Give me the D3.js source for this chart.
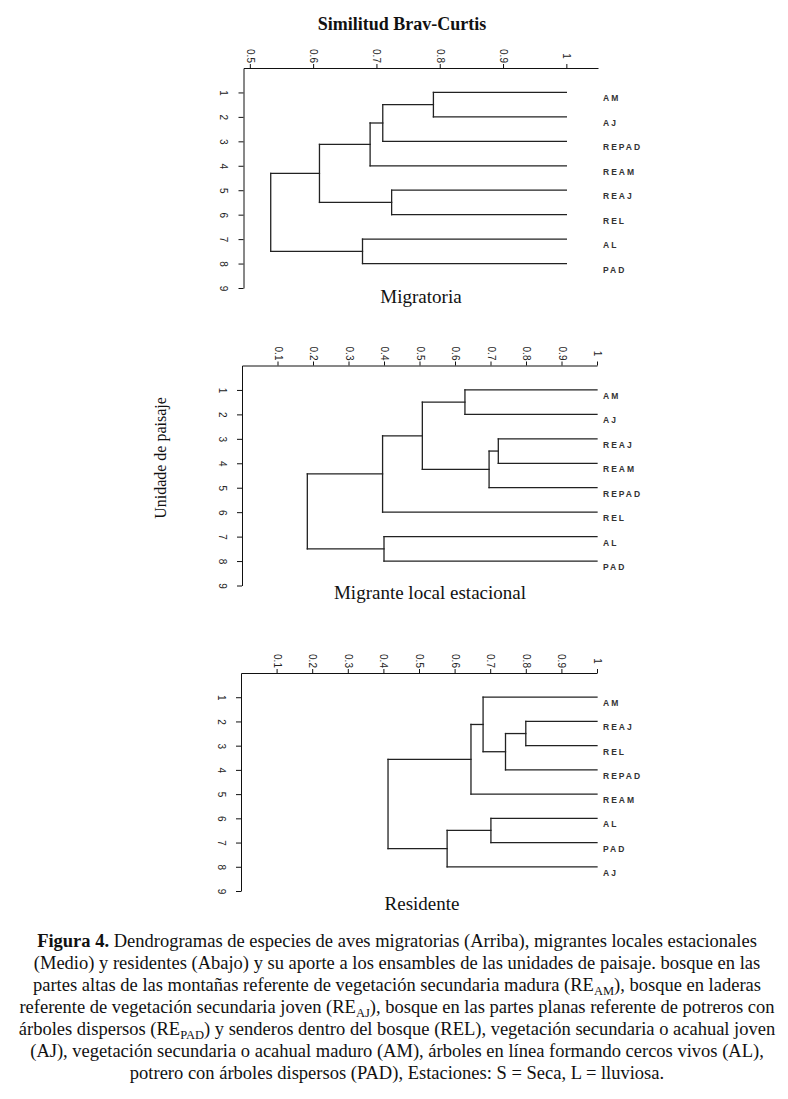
<!DOCTYPE html>
<html>
<head>
<meta charset="utf-8">
<script src="https://cdn.jsdelivr.net/npm/d3@7"></script>
<style>
  body { margin: 0; background: #fff; }
  .axis path, .axis line { stroke: #111; }
  .axis text { font-family: "Liberation Sans", Arial, sans-serif; font-size: 10px; fill: #222; }
  .leaf { font-family: "Liberation Sans", Arial, sans-serif; font-size: 8.5px; font-weight: bold; letter-spacing: 2px; fill: #333; }
  .serif { font-family: "Liberation Serif", "Times New Roman", serif; fill: #111; }
</style>
</head>
<body>
<svg width="788" height="1099"></svg>
<script>
// similarity ticks
const topTicks = [0.5, 0.6, 0.7, 0.8, 0.9, 1];
const lowTicks = [0.1, 0.2, 0.3, 0.4, 0.5, 0.6, 0.7, 0.8, 0.9, 1];
const rowTicks = [1, 2, 3, 4, 5, 6, 7, 8, 9];

// leaves, top to bottom
const migLeaves = ['AM', 'AJ', 'REPAD', 'REAM', 'REAJ', 'REL', 'AL', 'PAD'];
const locLeaves = ['AM', 'AJ', 'REAJ', 'REAM', 'REPAD', 'REL', 'AL', 'PAD'];
const resLeaves = ['AM', 'REAJ', 'REL', 'REPAD', 'REAM', 'AL', 'PAD', 'AJ'];

// merges like hclust: negative = leaf (1-based), positive = earlier merge
const migMerges = [[-1, -2], [1, -3], [2, -4], [-5, -6], [-7, -8], [3, 4], [6, 5]];
const migHeights = [0.79, 0.71, 0.69, 0.724, 0.678, 0.61, 0.533];

const locMerges = [[-3, -4], [1, -5], [-1, -2], [3, 2], [-7, -8], [4, -6], [6, 5]];
const locHeights = [0.722, 0.696, 0.628, 0.508, 0.40, 0.396, 0.184];

const resMerges = [[-2, -3], [1, -4], [-6, -7], [-1, 2], [4, -5], [3, -8], [5, 6]];
const resHeights = [0.80, 0.743, 0.702, 0.68, 0.646, 0.579, 0.413];

const svg = d3.select('svg');
svg.append('rect').attr('width', 788).attr('height', 1099).attr('fill', '#fff');

const panels = [
  { leaves: migLeaves, merges: migMerges, heights: migHeights, ticks: topTicks,
    xDomain: [0.49, 1.05], xRange: [243.5, 598], yRange: [68, 288],
    title: 'Migratoria', titleX: 421, titleY: 303 },
  { leaves: locLeaves, merges: locMerges, heights: locHeights, ticks: lowTicks,
    xDomain: [0, 1], xRange: [242, 597], yRange: [365.5, 585.5],
    title: 'Migrante local estacional', titleX: 430, titleY: 599 },
  { leaves: resLeaves, merges: resMerges, heights: resHeights, ticks: lowTicks,
    xDomain: [0, 1], xRange: [241, 597], yRange: [673, 891],
    title: 'Residente', titleX: 422, titleY: 910 }
];

function drawPanel(p) {
  const x = d3.scaleLinear().domain(p.xDomain).range(p.xRange);
  const y = d3.scaleLinear().domain([0, 9]).range(p.yRange);
  const g = svg.append('g');

  const xAxis = g.append('g').attr('class', 'axis')
    .attr('transform', `translate(0,${p.yRange[0]})`)
    .call(d3.axisTop(x).tickValues(p.ticks).tickFormat(d3.format('')).tickSize(4).tickSizeOuter(0));
  xAxis.selectAll('text')
    .attr('x', 0).attr('y', 0).attr('dy', '0.35em')
    .attr('text-anchor', 'middle')
    .attr('transform', 'translate(0,-12) rotate(90)');

  const yAxis = g.append('g').attr('class', 'axis')
    .attr('transform', `translate(${p.xRange[0]},0)`)
    .call(d3.axisLeft(y).tickValues(rowTicks).tickSize(5).tickSizeOuter(0));
  yAxis.selectAll('text')
    .attr('x', 0).attr('y', 0).attr('dy', '0.35em')
    .attr('text-anchor', 'middle')
    .attr('transform', 'translate(-20,0) rotate(90)');

  // node positions
  const nodeX = [], nodeY = [];
  const pos = c => c < 0 ? [x(1), y(-c)] : [nodeX[c - 1], nodeY[c - 1]];
  const segs = [];
  p.merges.forEach((m, i) => {
    const a = pos(m[0]), b = pos(m[1]);
    const hx = x(p.heights[i]);
    nodeX.push(hx);
    nodeY.push((a[1] + b[1]) / 2);
    segs.push([a[0], a[1], hx, a[1]]);
    segs.push([b[0], b[1], hx, b[1]]);
    segs.push([hx, a[1], hx, b[1]]);
  });

  g.selectAll('.seg').data(segs).enter().append('line')
    .attr('x1', d => d[0]).attr('y1', d => d[1])
    .attr('x2', d => d[2]).attr('y2', d => d[3])
    .attr('stroke', '#222').attr('stroke-width', 1.3)
    .attr('stroke-linecap', 'square');

  g.selectAll('.leaf').data(p.leaves).enter().append('text')
    .attr('class', 'leaf')
    .attr('x', 603)
    .attr('y', (d, i) => y(i + 1) + 9)
    .text(d => d);

  g.append('text').attr('class', 'serif')
    .attr('x', p.titleX).attr('y', p.titleY)
    .attr('text-anchor', 'middle').attr('font-size', 19)
    .text(p.title);
}

panels.forEach(drawPanel);

svg.append('text').attr('class', 'serif')
  .attr('x', 402).attr('y', 30).attr('text-anchor', 'middle')
  .attr('font-size', 18).attr('font-weight', 'bold')
  .text('Similitud Brav-Curtis');

svg.append('text').attr('class', 'serif')
  .attr('transform', 'translate(166,458) rotate(-90)')
  .attr('text-anchor', 'middle').attr('font-size', 16)
  .text('Unidade de paisaje');

// caption, each line is a list of [text, style]
const captionLines = [
  [['Figura 4.', 'b'], [' Dendrogramas de especies de aves migratorias (Arriba), migrantes locales estacionales', '']],
  [['(Medio) y residentes (Abajo) y su aporte a los ensambles de las unidades de paisaje. bosque en las', '']],
  [['partes altas de las montañas referente de vegetación secundaria madura (RE', ''], ['AM', 's'], ['), bosque en laderas', '']],
  [['referente de vegetación secundaria joven (RE', ''], ['AJ', 's'], ['), bosque en las partes planas referente de potreros con', '']],
  [['árboles dispersos (RE', ''], ['PAD', 's'], [') y senderos dentro del bosque (REL), vegetación secundaria o acahual joven', '']],
  [['(AJ), vegetación secundaria o acahual maduro (AM), árboles en línea formando cercos vivos (AL),', '']],
  [['potrero con árboles dispersos (PAD), Estaciones: S = Seca, L = lluviosa.', '']]
];

const cap = svg.append('g').attr('class', 'serif').attr('font-size', 18.5);
captionLines.forEach((line, i) => {
  const t = cap.append('text').attr('x', 397).attr('y', 947 + i * 22).attr('text-anchor', 'middle');
  let prev = '';
  line.forEach(([s, st]) => {
    const ts = t.append('tspan').text(s);
    if (st === 'b') ts.attr('font-weight', 'bold');
    if (st === 's') ts.attr('font-size', 12.5).attr('dy', 4);
    else if (prev === 's') ts.attr('dy', -4);
    prev = st;
  });
});
</script>
</body>
</html>
